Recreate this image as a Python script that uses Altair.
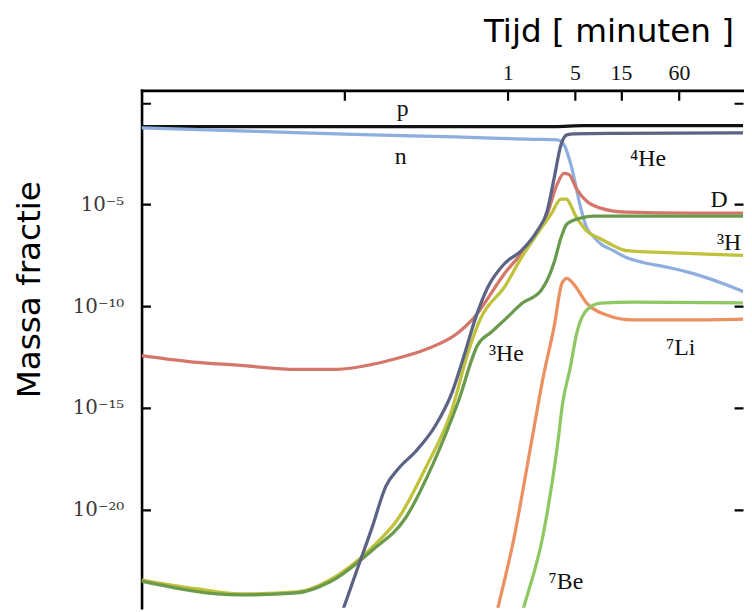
import altair as alt
import pandas as pd

# ---- data: time in minutes, mass fraction ----
p_t = [1.59e-4, 0.0692, 3.04, 6.17, 343.6]
p_y = [0.068, 0.068, 0.068, 0.076, 0.076]

n_t = [1.59e-4, 2.53e-3, 0.0392, 0.2857, 1.893, 3.262, 3.847, 4.541, 5.751, 6.628,
       7.820, 9.229, 12.55, 17.06, 25.5, 47.2, 83.2, 169, 343.6]
n_y = [0.0575, 0.0389, 0.0262, 0.0210, 0.0159, 0.0150, 0.00857, 9.12e-4, 6.61e-6, 7.03e-7,
       2.57e-7, 1.17e-7, 5.36e-8, 2.45e-8, 1.40e-8, 7.97e-9, 4.07e-9, 1.33e-9, 3.47e-10]

he4_t = [0.01674, 0.01975, 0.02686, 0.0392, 0.0546, 0.0742, 0.1110, 0.1780, 0.2661, 0.3618,
         0.4583, 0.6232, 0.9316, 1.392, 2.032, 2.575, 3.038, 3.584, 4.130, 4.874, 12.55, 343.6]
he4_y = [1.41e-26, 1.32e-25, 8.35e-24, 1.29e-21, 1.42e-19, 1.07e-18, 7.16e-18, 1.32e-16, 5.94e-15, 5.24e-13,
         2.11e-11, 8.49e-10, 1.25e-8, 5.36e-8, 5.04e-7, 4.72e-6, 1.90e-4, 8.57e-3, 0.0262, 0.0294, 0.0311, 0.0329]

d_t = [1.59e-4, 6.11e-4, 1.69e-3, 6.50e-3, 0.01674, 0.0392, 0.0644, 0.1405, 0.3067, 0.4270,
       0.9316, 1.764, 2.575, 3.262, 3.847, 4.330, 5.232, 6.628, 9.229, 12.55, 17.06, 83.2, 343.6]
d_y = [3.74e-13, 1.71e-13, 1.22e-13, 7.80e-14, 7.80e-14, 1.36e-13, 2.39e-13, 7.31e-13, 4.91e-12, 2.11e-11,
       4.07e-9, 1.64e-7, 3.37e-6, 9.71e-5, 3.33e-4, 2.98e-4, 5.55e-5, 1.45e-5, 6.61e-6, 4.72e-6, 4.22e-6, 3.77e-6, 3.77e-6]

h3_t = [1.59e-4, 6.11e-4, 1.69e-3, 6.50e-3, 0.01419, 0.0392, 0.0742, 0.1405, 0.2661, 0.3885,
        0.5161, 0.9538, 1.392, 2.032, 2.830, 3.584, 4.034, 5.232, 6.628, 9.229, 12.55, 17.06, 83.2, 343.6]
h3_y = [3.40e-24, 1.24e-24, 7.10e-25, 8.87e-25, 3.40e-24, 1.37e-22, 3.95e-21, 1.07e-18, 8.83e-16, 5.24e-13,
        2.11e-11, 1.06e-9, 2.45e-8, 3.59e-7, 3.37e-6, 1.81e-5, 1.81e-5, 2.16e-6, 5.04e-7, 2.05e-7, 9.36e-8, 5.36e-8, 3.83e-8, 3.05e-8]

he3_t = [1.59e-4, 1.69e-3, 6.50e-3, 0.01419, 0.0392, 0.0876, 0.1659, 0.3067, 0.4920, 0.6850,
         0.9316, 1.426, 2.234, 2.575, 3.038, 3.584, 4.130, 5.751, 7.820, 12.55, 343.6]
he3_y = [3.04e-24, 6.34e-25, 7.93e-25, 2.72e-24, 9.79e-23, 3.95e-21, 1.49e-18, 1.94e-15, 1.28e-12, 5.50e-12,
         2.11e-11, 1.42e-10, 6.07e-10, 1.86e-9, 1.40e-8, 2.30e-7, 1.10e-6, 2.16e-6, 2.70e-6, 2.70e-6, 2.70e-6]

li7_t = [0.6850, 0.7896, 1.152, 1.722, 2.342, 3.038, 3.670, 4.130, 4.874, 6.628, 10.63, 20.13, 83.2, 343.6]
li7_y = [7.19e-27, 1.32e-25, 3.01e-22, 1.00e-17, 3.18e-14, 9.61e-12, 1.33e-9, 2.33e-9, 1.19e-9, 1.42e-10,
         3.69e-11, 2.11e-11, 2.11e-11, 2.36e-11]

be7_t = [1.237, 1.460, 2.342, 3.262, 3.758, 4.435, 5.232, 6.628, 9.229, 20.13, 343.6]
be7_y = [7.19e-27, 1.32e-25, 5.89e-22, 1.00e-17, 2.17e-15, 7.80e-14, 4.91e-12, 6.46e-11, 1.42e-10, 1.58e-10, 1.42e-10]

species = ["p", "n", "D", "3H", "3He", "7Li", "7Be", "4He"]
colors = ["#111111", "#8eaee0", "#d4776a", "#bfc23a", "#6a9a4c", "#eb9060", "#8fc862", "#5c6384"]

label_text = ["p", "n", "⁴He", "D", "³H", "³He", "⁷Li", "⁷Be"]
label_t = [0.0816, 0.0778, 28.7, 157, 199, 0.97, 62.6, 4.03]
label_y = [0.483, 2.23e-3, 1.79e-3, 1.62e-5, 1.31e-7, 4.18e-13, 9.16e-13, 2.75e-24]

xtick_vals = [0.0202, 1, 5, 15, 60]
ytick_vals = [1, 1e-5, 1e-10, 1e-15, 1e-20]
ytick_exp = [-5, -10, -15, -20]
ytick_text = ["10⁻⁵", "10⁻¹⁰", "10⁻¹⁵", "10⁻²⁰"]

x_domain = [1.589e-4, 277.6]
y_domain = [1.48e-25, 4.06]

# ---- build tables ----
series = {"p": (p_t, p_y), "n": (n_t, n_y), "D": (d_t, d_y), "3H": (h3_t, h3_y),
          "3He": (he3_t, he3_y), "7Li": (li7_t, li7_y), "7Be": (be7_t, be7_y), "4He": (he4_t, he4_y)}
rows = []
for name in species:
    ts, ys = series[name]
    for i, (t, y) in enumerate(zip(ts, ys)):
        rows.append({"species": name, "t": t, "frac": y, "idx": i})
df = pd.DataFrame(rows)
labels_df = pd.DataFrame({"text": label_text, "t": label_t, "frac": label_y})

W, H = 608, 523
serif = "Liberation Serif"
tickserif = "DejaVu Serif"
sans = "DejaVu Sans"

expr = "''"
for e, s in zip(reversed(ytick_exp), reversed(ytick_text)):
    expr = f"round(log(datum.value)/LN10) == {e} ? '{s}' : ({expr})"

xscale = alt.Scale(type="log", domain=x_domain, nice=False)
yscale = alt.Scale(type="log", domain=y_domain, nice=False)

x_axis = alt.Axis(
    orient="top", values=xtick_vals,
    labelExpr="datum.value < 0.5 ? '' : format(datum.value, 'd')",
    ticks=False, domain=True, domainColor="#000", domainWidth=2.6, domainCap="square",
    grid=True, gridColor="#000", gridWidth=2.2, gridOpacity=1,
    gridDash=[10, H - 10], gridDashOffset=10,
    labelFont=serif, labelFontSize=22, labelColor="#111", labelPadding=6,
    labelFlush=False, labelOverlap=False,
    title="Tijd [ minuten ]", titleFont=sans, titleFontSize=33, titleFontWeight="normal",
    titleColor="#000", titleX=472, titleY=-49, titleAlign="center", titleBaseline="alphabetic", titleAngle=0,
)
y_axis = alt.Axis(
    orient="left", values=ytick_vals, labelExpr=expr,
    ticks=False, domain=True, domainColor="#000", domainWidth=2.6, domainCap="square",
    grid=True, gridColor="#000", gridWidth=2.2, gridOpacity=1,
    gridDash=[9, W - 18, 9, 2000],
    labelFont=tickserif, labelFontSize=20, labelColor="#3a3a3a", labelPadding=18,
    labelFlush=False, labelOverlap=False,
    title="Massa fractie", titleFont=sans, titleFontSize=33, titleFontWeight="normal",
    titleColor="#000", titleX=-103, titleY=201, titleAlign="center", titleBaseline="alphabetic", titleAngle=-90,
)

lines = alt.Chart(df).mark_line(strokeWidth=3.3, clip=True, interpolate="monotone").encode(
    x=alt.X("t:Q", scale=xscale, axis=x_axis),
    y=alt.Y("frac:Q", scale=yscale, axis=y_axis),
    color=alt.Color("species:N", scale=alt.Scale(domain=species, range=colors), legend=None),
    order=alt.Order("idx:Q"),
)

texts = alt.Chart(labels_df).mark_text(font=serif, fontSize=24, color="#111",
                                       align="center", baseline="middle").encode(
    x=alt.X("t:Q", scale=xscale),
    y=alt.Y("frac:Q", scale=yscale),
    text="text:N",
)

chart = alt.layer(lines, texts).properties(
    width=W, height=H,
    autosize=alt.AutoSizeParams(type="none"),
    padding={"left": 135, "top": 80, "right": 1, "bottom": 1},
    background="white",
).configure_view(stroke=None)

chart.save("out.html", embed_options={"renderer": "svg", "actions": False})
